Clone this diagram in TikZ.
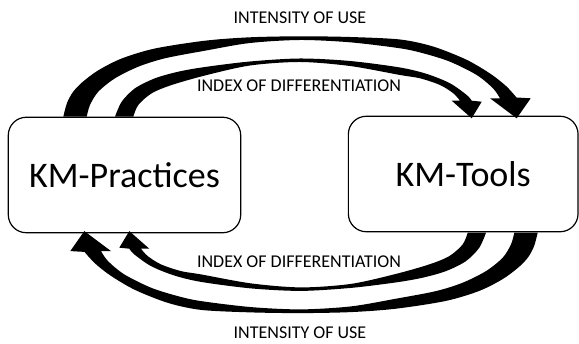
\documentclass[tikz,border=0pt]{standalone}
\usepackage{fontspec}
\setmainfont{Carlito}
\usepackage{tikz}

\begin{document}
\begin{tikzpicture}[x=1pt,y=-1pt,
   kmbox/.style={draw,line width=1.2pt,rounded corners=18pt,fill=white,
      minimum height=115.5pt,inner sep=0pt,
      font=\fontsize{36}{40}\selectfont},
   flowtext/.style={anchor=base,inner sep=0pt,
      font=\fontsize{18}{20}\selectfont},
   band/.style={fill=black}
]
   \useasboundingbox (0,0) rectangle (579,344);

   \node[kmbox,minimum width=232.4pt] (prac) at (124.5,175) {KM-Practices};
   \node[kmbox,minimum width=229.7pt] (tools) at (463.2,174) {KM-Tools};

   % curved block arrows: top pair, then the same pair turned half a circle
   \foreach \r in {0,180} {
      \begin{scope}[rotate around={\r:(300.5,174.7)}]
         % outer band (intensity of use)
         \fill[band] plot[smooth] coordinates {(63.3,116.7) (67,103) (73,92)
               (82,82.5) (98,70.5) (121.7,58.5) (155,48.5) (205,40.7)
               (250,37.3) (300,36.3) (350,37) (400,39.5) (433,46.5)
               (466,59.5) (490,73.5) (506,86) (516.5,97.5)}
            -- (530.7,98.3) -- (516.7,118.3) -- (490,98.3)
            -- plot[smooth] coordinates {(500,98.3) (493,88.3) (476.7,75)
               (450,61.7) (423.3,53.3) (400,48.3) (350,42.3) (300,40)
               (250,43) (205,50.7) (165,58.3) (138.3,66.7) (115,78.3)
               (98.3,91.7) (90,105) (86.7,116.7)}
            -- cycle;
         % inner band (index of differentiation)
         \fill[band] plot[smooth] coordinates {(115,116.7) (121.7,101.7)
               (135,88.3) (155,78.3) (178.3,71.7) (205,67) (250,61.5)
               (300,58.5) (350,61) (400,67.5) (427,74) (450,83.3)
               (466.7,95) (471.7,100.7)}
            -- (481.7,101.7) -- (471.7,118.3) -- (451.7,100.7)
            -- plot[smooth] coordinates {(460,100.7) (453.3,93.3) (440,85)
               (420,78.3) (400,75) (350,66) (300,62) (250,65.5) (205,75.5)
               (171.7,85) (151.7,93.3) (138.3,105) (133.3,116.7)}
            -- cycle;
      \end{scope}
   }

   \node[flowtext] (useT) at (300,23.3) {INTENSITY OF USE};
   \node[flowtext] (diffT) at (299,91.7) {INDEX OF DIFFERENTIATION};
   \node[flowtext] (diffB) at (299,267.8) {INDEX OF DIFFERENTIATION};
   \node[flowtext] (useB) at (300,338.3) {INTENSITY OF USE};
\end{tikzpicture}
\end{document}
